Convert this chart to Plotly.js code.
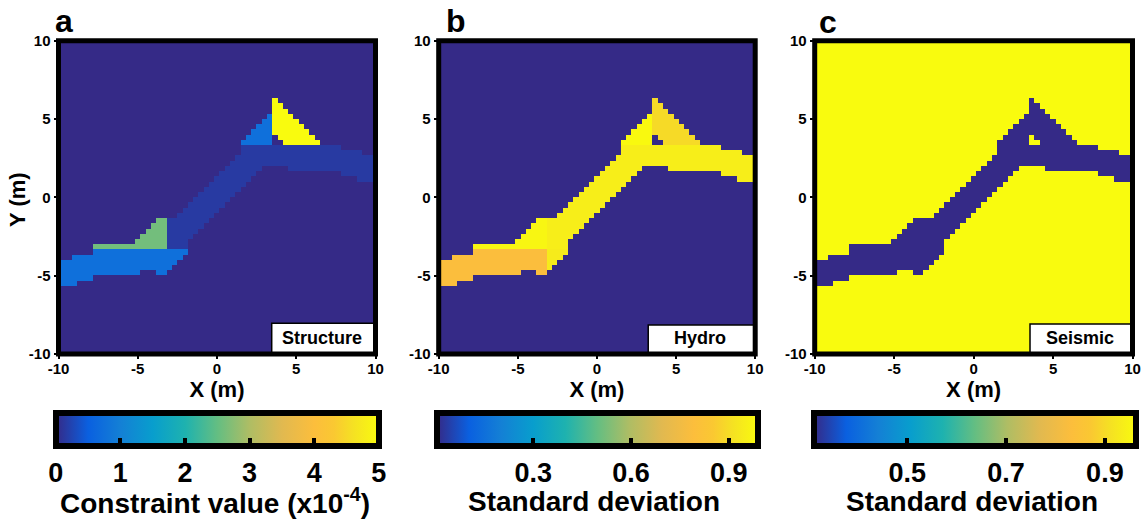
<!DOCTYPE html>
<html><head><meta charset="utf-8">
<script src="https://cdn.plot.ly/plotly-3.0.1.min.js"></script>
<style>html,body{margin:0;padding:0;background:#fff;}#chart{width:1143px;height:519px;}</style>
</head><body><div id="chart"></div>
<script>
// ---- raster geometry: 61 columns x 60 rows of 1/3 m cells ----
// lowest and highest fault-zone row for every column (column k centred at x = -10 + k/3)
const bandLo = [12, 13,13,13, 14,14,14, 15,15,15,15,15,15,15,15,15, 16,16,16, 15,15, 16, 17, 18, 19,
  22,23,24,25,26,27,28,29,30,31,32,33,34,35, 36,36,36,36,36, 35,35,35,35,35,35,35,35,35,35, 34,34,34, 33,33,33,33];
const bandHi = [17,17,17, 18,18,18,18, 20,20,20,20,20,20,20,20, 21,22,23,24, 25,25,25,25,
  26,27,28,29,30,31,32,33,34,35,36,37, 40,41,42,43,44,45, 48,47,46,45,44,43,42,41,40,
  39,39,39,39, 38,38,38,38, 37,37,37];
// small gap inside the triangle
const holeCols = [41, 41, 42];
const holeRows = [40, 41, 40];
// region split lines (cell indices)
const splitCol = 20;        // last column of the left block (x ~ -3.2 m)
const splitRow = 20;        // first row of the upper-left block (y ~ -3.3 m)
const lowerMidLastCol = 24; // lower block continues to x ~ -1.5 m
const triRow = 40;          // first row of the triangle (y ~ 3.3 m)
const triCol = 41;          // first column of the right triangle (x ~ 3.7 m)

// value of each region in each panel
const regionNames   = ['background','fault','lowerLeft','lowerMid','upperLeft','triangleLeft','triangleRight'];
const structureVals = [0,     0.15, 0.75, 0.75, 2.6,   0.75,  5];
const hydroVals     = [0.004, 0.95, 0.79, 0.94, 0.975, 0.985, 0.895];
const seismicVals   = [0.962, 0.31, 0.31, 0.31, 0.31,  0.31,  0.31];

const panelLetters = ['a','b','c'];
const panelLabels  = ['Structure','Hydro','Seismic'];
const cbTitles = ['Constraint value (x10<sup>-4</sup>)','Standard deviation','Standard deviation'];
const cbTicks  = [[0,1,2,3,4,5],[0.3,0.6,0.9],[0.5,0.7,0.9]];
const cbText   = [['0','1','2','3','4','5'],['0.3','0.6','0.9'],['0.5','0.7','0.9']];
const cbRange  = [[0,5],[0.004,0.99],[0.31,0.962]];
const axisTicks = [-10,-5,0,5,10];
const axisTickText = ['-10','-5','0','5','10'];

// parula-like colour scale
const parula = [
  [0.00,'rgb(53,42,135)'],[0.10,'rgb(10,96,224)'],[0.20,'rgb(20,128,213)'],
  [0.30,'rgb(8,158,205)'],[0.40,'rgb(30,178,175)'],[0.50,'rgb(100,190,130)'],
  [0.60,'rgb(175,189,100)'],[0.70,'rgb(225,185,80)'],[0.80,'rgb(252,190,60)'],
  [0.86,'rgb(250,200,50)'],[0.92,'rgb(245,225,35)'],[1.00,'rgb(249,251,14)']];

function regionGrid(){
  const g = [];
  for (let j = 0; j < 60; j++){
    const row = [];
    for (let k = 0; k < bandLo.length; k++){
      let r = 0;
      let hole = false;
      for (let h = 0; h < holeCols.length; h++) if (holeCols[h] === k && holeRows[h] === j) hole = true;
      if (j >= bandLo[k] && j <= bandHi[k] && !hole){
        if (j >= triRow) r = (k >= triCol) ? 6 : 5;
        else if (k <= splitCol) r = (j >= splitRow) ? 4 : 2;
        else if (j < splitRow && k <= lowerMidLastCol) r = 3;
        else r = 1;
      }
      row.push(r);
    }
    g.push(row);
  }
  return g;
}
const regions = regionGrid();
const panelVals = [structureVals, hydroVals, seismicVals];

const W = 1143, H = 519;
const FONT = 'Liberation Sans, Arial, sans-serif';
const xDom = [[58.5,375.5],[438.7,755.2],[814.7,1132.5]];
const yDom = [1-354/H, 1-40.7/H];
const cbPos = [[56,378.5],[437,758],[813.3,1135.7]];
const cbTitleX = [215, 594, 972];
const boxLeft = [0.6726, 0.662, 0.6775];
const boxTop  = [0.098, 0.0925, 0.0957];
const lblX = [0.8328, 0.8246, 0.8348];
const letterX = [64, 455.5, 827.5];
const letterY = [21, 21, 22];

const data = [], shapes = [], annotations = [];
const layout = {
  width: W, height: H, margin:{l:0,r:0,t:0,b:0},
  paper_bgcolor:'#fff', plot_bgcolor:'#fff', showlegend:false,
  font:{family:FONT, color:'#000'}
};

for (let p = 0; p < 3; p++){
  const sfx = p === 0 ? '' : String(p+1);
  const vals = panelVals[p];
  const z = regions.map(row => row.map(r => vals[r]));
  data.push({
    type:'heatmap', z:z, x0:-10, dx:1/3, y0:-10+1/6, dy:1/3,
    xaxis:'x'+sfx, yaxis:'y'+sfx, zsmooth:false, hoverinfo:'skip',
    colorscale:parula, zmin:cbRange[p][0], zmax:cbRange[p][1],
    showscale:true,
    colorbar:{
      orientation:'h', xref:'paper', yref:'paper',
      x:(cbPos[p][0]+cbPos[p][1])/2/W, xanchor:'center',
      y:1-412.5/H, yanchor:'top',
      len:cbPos[p][1]-cbPos[p][0], lenmode:'pixels',
      thickness:33, thicknessmode:'pixels', xpad:0, ypad:0,
      outlinewidth:6, outlinecolor:'#000', bordercolor:'rgba(0,0,0,0)', borderwidth:0,
      tickmode:'array', tickvals:cbTicks[p], ticktext:cbText[p],
      ticks:'inside', ticklen:11, tickwidth:4, tickcolor:'#000',
      tickfont:{family:FONT, size:27, weight:'bold', color:'#000'}
    }
  });
  // colour-bar caption
  annotations.push({xref:'paper', yref:'paper', x:cbTitleX[p]/W, y:1-501/H,
    xanchor:'center', yanchor:'middle', showarrow:false, text:cbTitles[p],
    font:{family:FONT, size:28, weight:'bold', color:'#000'}});
  const axCommon = {
    range:[-10,10], showgrid:false, zeroline:false, showline:false,
    tickmode:'array', tickvals:axisTicks, ticktext:axisTickText,
    ticks:'outside', ticklen:4, tickwidth:2, tickcolor:'#000',
    tickfont:{family:FONT, size:15, weight:'bold', color:'#000'}, fixedrange:true
  };
  layout['xaxis'+sfx] = Object.assign({}, axCommon, {
    domain:[xDom[p][0]/W, xDom[p][1]/W], anchor:'y'+sfx, ticklabelstandoff:-3,
    title:{text:'X (m)', standoff:4, font:{family:FONT, size:22, weight:'bold', color:'#000'}}
  });
  layout['yaxis'+sfx] = Object.assign({}, axCommon, {domain:yDom, anchor:'x'+sfx});
  // label box
  shapes.push({type:'rect', xref:'x'+sfx+' domain', yref:'y'+sfx+' domain',
    x0:boxLeft[p], x1:1, y0:0, y1:boxTop[p], fillcolor:'#fff', line:{color:'#000', width:1.5}, layer:'above'});
  // thick frame
  shapes.push({type:'rect', xref:'x'+sfx+' domain', yref:'y'+sfx+' domain',
    x0:0, x1:1, y0:0, y1:1, fillcolor:'rgba(0,0,0,0)', line:{color:'#000', width:5}, layer:'above'});
  annotations.push({xref:'x'+sfx+' domain', yref:'y'+sfx+' domain', x:lblX[p], y:0.05,
    xanchor:'center', yanchor:'middle', showarrow:false, text:panelLabels[p],
    font:{family:FONT, size:18, weight:'bold', color:'#000'}});
  annotations.push({xref:'paper', yref:'paper', x:letterX[p]/W, y:1-letterY[p]/H,
    xanchor:'center', yanchor:'middle', showarrow:false, text:panelLetters[p],
    font:{family:FONT, size:32, weight:'bold', color:'#000'}});
}
// y-axis title of panel a
annotations.push({xref:'paper', yref:'paper', x:18/W, y:1-200/H, xanchor:'center', yanchor:'middle',
  textangle:-90, showarrow:false, text:'Y (m)', font:{family:FONT, size:22, weight:'bold', color:'#000'}});
layout.shapes = shapes;
layout.annotations = annotations;
Plotly.newPlot('chart', data, layout, {displayModeBar:false, staticPlot:true});
</script></body></html>
